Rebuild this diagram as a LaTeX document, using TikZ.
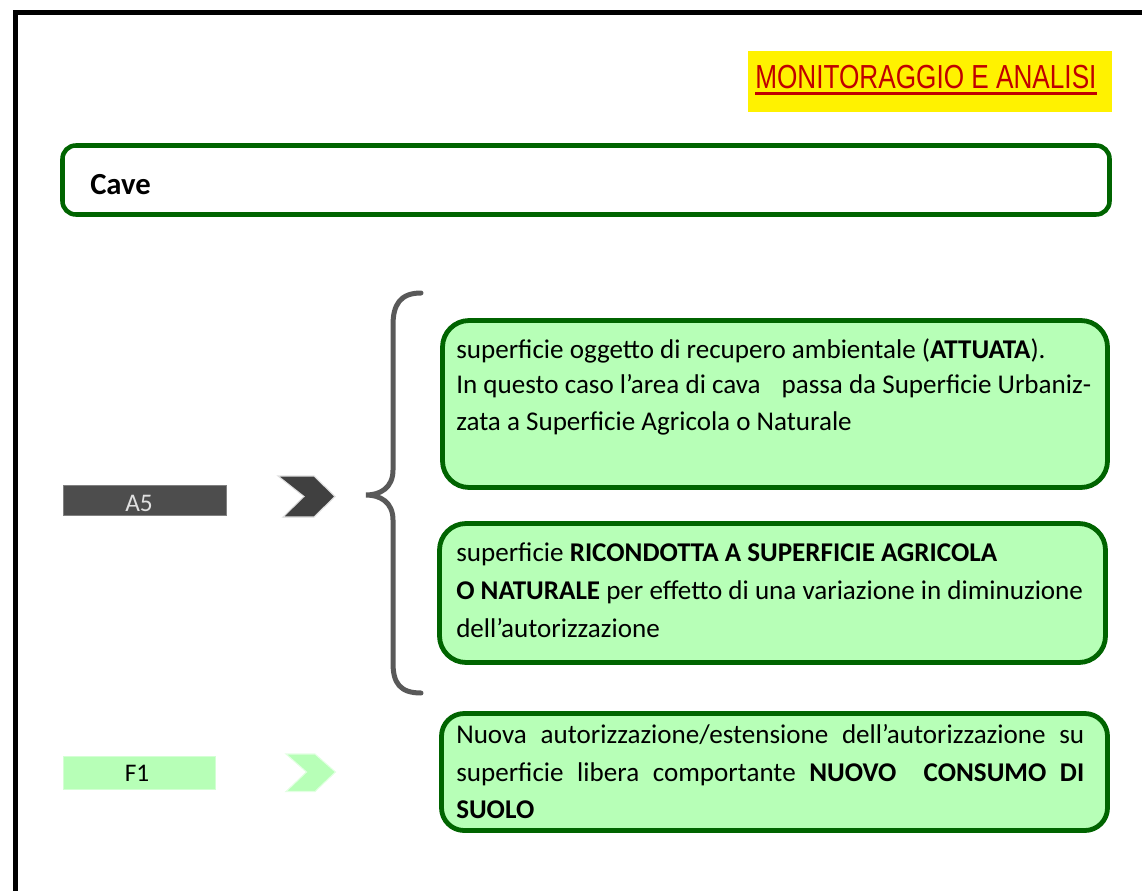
\documentclass[tikz,border=0pt]{standalone}
\usepackage{fontspec}
\setmainfont{Carlito}
\newfontfamily\arialf{Liberation Sans}
\definecolor{frgreen}{RGB}{0,100,0}
\definecolor{lgreen}{RGB}{183,255,183}
\definecolor{bracegray}{RGB}{89,89,89}
\definecolor{bardark}{RGB}{77,77,77}
\definecolor{chevdark}{RGB}{64,64,64}
\definecolor{titlered}{RGB}{192,0,0}
\tikzset{
  gbox/.style={draw=frgreen, fill=lgreen, line width=3.6pt, rounded corners=20pt, inner sep=0pt},
  txt/.style={anchor=base west, inner sep=0pt, font=\fontsize{20.3}{24}\selectfont},
  bartxt/.style={inner sep=0pt, font=\fontsize{19}{23}\selectfont},
}
\begin{document}
\begin{tikzpicture}[x=0.75pt,y=-0.75pt]
\useasboundingbox (0,0) rectangle (1142,891);
\clip (0,0) rectangle (1142,891);
% outer frame
\draw[line width=3.75pt, black] (15.5,12.5) rectangle (1200,960);
% title
\node[fill=yellow, minimum width=273pt, minimum height=45.75pt, inner sep=0pt] (ttlbox) at (930,81.5) {};
\node[anchor=base west, inner sep=0pt, text=titlered, font=\arialf\fontsize{25}{30}\selectfont] (ttl) at (755,89) {\scalebox{0.785}[1]{MONITORAGGIO E ANALISI}};
\draw[titlered, line width=2pt] ([yshift=-3.5pt]ttl.base west) -- ([yshift=-3.5pt]ttl.base east);
% Cave box
\node[draw=frgreen, line width=3.4pt, rounded corners=10pt, minimum width=785.25pt, minimum height=51.75pt, inner sep=0pt] (cavebox) at (586,180) {};
\node[txt, font=\bfseries\fontsize{23}{27}\selectfont] (cave) at (90,195) {Cave};
% A5 bar and chevron
\node[fill=bardark, draw=gray, line width=0.6pt, minimum width=122.25pt, minimum height=22.5pt, inner sep=0pt] (a5) at (144.5,500) {};
\node[bartxt, text=white!88!black, anchor=base] (a5t) at (139,511.5) {A5};
\draw[fill=chevdark, draw=gray!25, line width=0.8pt] (278,476) -- (314,476) -- (335,496.5) -- (314,517) -- (283,517) -- (304,496.5) -- cycle;
% F1 bar and chevron
\node[fill=lgreen, draw=lgreen!60!white, line width=0.6pt, minimum width=114pt, minimum height=24.75pt, inner sep=0pt] (f1) at (139,772.5) {};
\node[bartxt, anchor=base] (f1t) at (137,781) {F1};
\draw[fill=lgreen, draw=lgreen!40!white, line width=0.8pt] (286,754) -- (315,754) -- (335.5,772) -- (315,791.5) -- (286,791.5) -- (306.5,772) -- cycle;
% brace
\coordinate (brtop) at (421,293);
\coordinate (brtip) at (366,495);
\coordinate (brbot) at (421,693);
\draw[bracegray, line width=3.75pt, line cap=round] (brtop) .. controls (400,293) and (393,305) .. (393,325) -- (393,470) .. controls (393,488) and (380,495) .. (brtip) .. controls (380,495) and (393,502) .. (393,520) -- (393,663) .. controls (393,683) and (400,693) .. (brbot);
% box 1
\node[gbox, minimum width=498.75pt, minimum height=125.25pt] (b1) at (775,404) {};
\node[txt] (b1l1) at (456,358) {superficie oggetto di recupero ambientale (\textbf{ATTUATA}).};
\node[txt] (b1l2) at (456,393) {In questo caso l’area di cava\hspace{0.55em} passa da Superficie Urbaniz-};
\node[txt] (b1l3) at (456,430) {zata a Superficie Agricola o Naturale};
% box 2
\node[gbox, minimum width=499.5pt, minimum height=104.25pt] (b2) at (772.5,593) {};
\node[txt] (b2l1) at (456,561) {superficie \textbf{RICONDOTTA A SUPERFICIE AGRICOLA}};
\node[txt] (b2l2) at (456,599) {\textbf{O NATURALE} per effetto di una variazione in diminuzione};
\node[txt] (b2l3) at (456,637) {dell’autorizzazione};
% box 3
\node[gbox, rounded corners=17pt, minimum width=499.5pt, minimum height=87.75pt] (b3) at (774.5,772) {};
\node[txt] (b3l1) at (456,743) {\hbox to 471pt{Nuova\hfil autorizzazione/estensione\hfil dell’autorizzazione\hfil su}};
\node[txt] (b3l2) at (456,781) {\hbox to 471pt{superficie\hfil libera\hfil comportante\hfil \textbf{NUOVO}\hfil\hfil \textbf{CONSUMO}\hfil \textbf{DI}}};
\node[txt] (b3l3) at (456,818) {\textbf{SUOLO}};
\end{tikzpicture}
\end{document}
